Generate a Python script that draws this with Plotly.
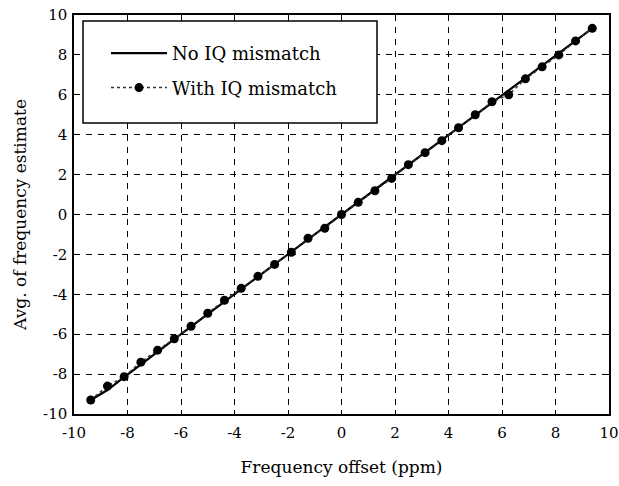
import plotly.graph_objects as go

# Frequency offsets (ppm) at which the estimator was evaluated
offset_ppm = [-9.375, -8.75, -8.125, -7.5, -6.875, -6.25, -5.625, -5.0, -4.375, -3.75,
              -3.125, -2.5, -1.875, -1.25, -0.625, 0.0, 0.625, 1.25, 1.875, 2.5,
              3.125, 3.75, 4.375, 5.0, 5.625, 6.25, 6.875, 7.5, 8.125, 8.75, 9.375]

# Average frequency estimate without IQ mismatch
est_no_iq = [-9.3, -8.8, -8.15, -7.5, -6.88, -6.25, -5.62, -5.0, -4.37, -3.75,
             -3.12, -2.5, -1.87, -1.25, -0.62, 0.0, 0.62, 1.25, 1.87, 2.5,
             3.12, 3.75, 4.37, 5.0, 5.62, 6.2, 6.85, 7.45, 8.08, 8.72, 9.33]

# Average frequency estimate with IQ mismatch
est_with_iq = [-9.3, -8.6, -8.13, -7.4, -6.8, -6.23, -5.6, -4.95, -4.3, -3.7,
               -3.1, -2.5, -1.89, -1.19, -0.69, 0.0, 0.61, 1.19, 1.81, 2.5,
               3.1, 3.7, 4.35, 5.0, 5.65, 6.0, 6.8, 7.4, 8.0, 8.7, 9.33]

tick_vals = [-10, -8, -6, -4, -2, 0, 2, 4, 6, 8, 10]
tick_text = ["-10", "-8", "-6", "-4", "-2", "0", "2", "4", "6", "8", "10"]

FONT = "DejaVu Serif"

# Plot-area geometry in pixels
L, R, T, B = 74, 10, 15, 72
W, H = 619, 486
PW, PH = W - L - R, H - T - B


def px_x(px):
    return (px - L) / PW


def px_y(py):
    return (H - B - py) / PH


fig = go.Figure()
fig.add_trace(go.Scatter(
    x=offset_ppm, y=est_no_iq, mode="lines", name="No IQ mismatch",
    line=dict(color="black", width=2.2), legendgroup="a",
))
fig.add_trace(go.Scatter(
    x=offset_ppm, y=est_with_iq, mode="lines+markers", name="With IQ mismatch",
    line=dict(color="#333333", width=1.5, dash="dot"),
    marker=dict(symbol="circle", size=9, color="black"), legendgroup="b",
))

axis_common = dict(
    range=[-10, 10], tickvals=tick_vals, ticktext=tick_text,
    ticks="inside", ticklen=4, tickwidth=1,
    tickcolor="black", showline=True, linecolor="black", linewidth=1.5,
    mirror="ticks", showgrid=True, gridcolor="black", gridwidth=1,
    griddash="6px,6px", zeroline=False, ticklabeloverflow="allow",
    automargin=False,
    tickfont=dict(family=FONT, size=15, color="black"),
)

fig.update_xaxes(**axis_common, ticklabelstandoff=4,
                 title=dict(text="Frequency offset (ppm)", standoff=20,
                            font=dict(family=FONT, size=17, color="black")))
fig.update_yaxes(**axis_common, ticklabelstandoff=2,
                 title=dict(text="Avg. of frequency estimate", standoff=12,
                            font=dict(family=FONT, size=17, color="black")))

# Legend frame
fig.add_shape(type="rect", xref="paper", yref="paper",
              x0=px_x(83), x1=px_x(377), y0=px_y(123), y1=px_y(21),
              line=dict(color="black", width=1.5), fillcolor="white", layer="above")

fig.update_layout(
    width=W, height=H,
    margin=dict(l=L, r=R, t=T, b=B),
    plot_bgcolor="white", paper_bgcolor="white",
    showlegend=True,
    legend=dict(x=px_x(106), y=px_y(35), xanchor="left", yanchor="top",
                bgcolor="rgba(0,0,0,0)", borderwidth=0, tracegroupgap=8,
                itemwidth=56,
                font=dict(family=FONT, size=18, color="black")),
)

fig.write_html("out.html")
